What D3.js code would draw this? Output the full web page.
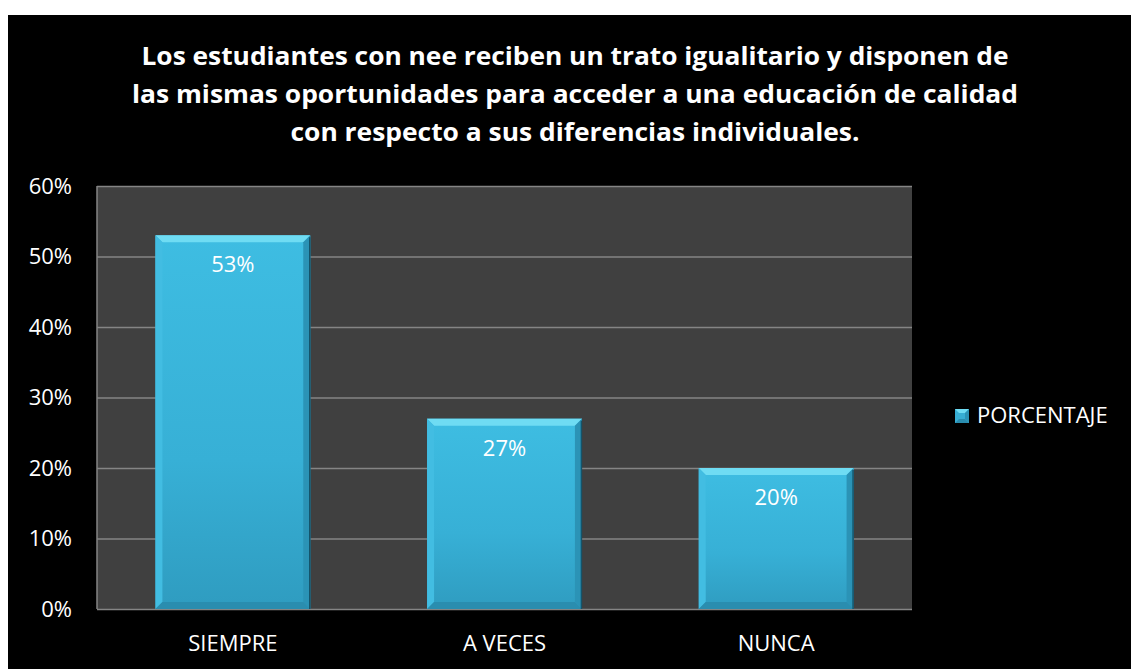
<!DOCTYPE html>
<html>
<head>
<meta charset="utf-8">
<script src="https://cdn.jsdelivr.net/npm/d3@7"></script>
<style>
  html, body { margin: 0; padding: 0; background: #ffffff; }
  svg { display: block; }
</style>
</head>
<body>
<div id="chart"></div>
<script>
const categories = ["SIEMPRE", "A VECES", "NUNCA"];
const values = [0.53, 0.27, 0.20];
const yTicks = [0, 0.1, 0.2, 0.3, 0.4, 0.5, 0.6];
const seriesName = "PORCENTAJE";
const titleLines = [
  "Los estudiantes con nee reciben un trato igualitario y disponen de",
  "las mismas oportunidades para acceder a una educación de calidad",
  "con respecto a sus diferencias individuales."
];
const titleWidths = [867, 886, 569];

const width = 1131;
const height = 669;
const plot = { left: 97, top: 186, right: 912, bottom: 609 };
const font = "'Open Sans', 'Noto Sans', sans-serif";
const labelSize = 22;

const svg = d3.select("#chart")
  .append("svg")
  .attr("width", width)
  .attr("height", height);

svg.append("rect")
  .attr("x", 8).attr("y", 15)
  .attr("width", width - 8).attr("height", height - 15)
  .attr("fill", "#000000");

const defs = svg.append("defs");
const grad = defs.append("linearGradient")
  .attr("id", "barFill")
  .attr("x1", 0).attr("y1", 0).attr("x2", 0).attr("y2", 1);
grad.append("stop").attr("offset", "0%").attr("stop-color", "#3ebde2");
grad.append("stop").attr("offset", "60%").attr("stop-color", "#37b0d6");
grad.append("stop").attr("offset", "100%").attr("stop-color", "#2f9cc0");

// title, three centred lines
svg.append("g")
  .selectAll("text")
  .data(titleLines)
  .enter()
  .append("text")
  .attr("x", 575)
  .attr("y", (d, i) => [65, 103, 141][i])
  .attr("text-anchor", "middle")
  .attr("fill", "#ffffff")
  .attr("font-family", font)
  .attr("font-weight", 700)
  .attr("font-size", 25)
  .attr("textLength", (d, i) => titleWidths[i])
  .attr("lengthAdjust", "spacingAndGlyphs")
  .text((d) => d);

const x = d3.scaleBand()
  .domain(categories)
  .range([plot.left, plot.right])
  .paddingInner(0.43)
  .paddingOuter(0.215);

const y = d3.scaleLinear()
  .domain([0, 0.6])
  .range([plot.bottom, plot.top]);

svg.append("rect")
  .attr("x", plot.left).attr("y", plot.top)
  .attr("width", plot.right - plot.left)
  .attr("height", plot.bottom - plot.top)
  .attr("fill", "#404040");

// gridlines
svg.append("g")
  .attr("transform", `translate(${plot.left},0)`)
  .call(d3.axisLeft(y).tickValues(yTicks).tickSize(-(plot.right - plot.left)).tickFormat(""))
  .call((g) => g.select(".domain").remove())
  .call((g) => g.selectAll("line").attr("stroke", "#858585").attr("stroke-width", 1.5));

svg.append("line")
  .attr("x1", plot.left).attr("x2", plot.left)
  .attr("y1", plot.top).attr("y2", plot.bottom)
  .attr("stroke", "#858585").attr("stroke-width", 1.5);

// y axis labels
svg.append("g")
  .attr("transform", `translate(${plot.left},0)`)
  .call(d3.axisLeft(y).tickValues(yTicks).tickSize(0).tickPadding(25).tickFormat(d3.format(".0%")))
  .call((g) => g.select(".domain").remove())
  .call((g) => g.selectAll("text")
    .attr("fill", "#ffffff")
    .attr("font-family", font)
    .attr("font-size", labelSize));

// x axis labels
svg.append("g")
  .attr("transform", `translate(0,${plot.bottom})`)
  .call(d3.axisBottom(x).tickSize(0).tickPadding(26))
  .call((g) => g.select(".domain").remove())
  .call((g) => g.selectAll("text")
    .attr("fill", "#ffffff")
    .attr("font-family", font)
    .attr("font-size", labelSize));

// bars with a bevelled edge
const bevel = 7;
const bars = svg.append("g")
  .selectAll("g")
  .data(categories.map((c, i) => ({ c, v: values[i] })))
  .enter()
  .append("g");

bars.each(function (d) {
  const g = d3.select(this);
  const x0 = x(d.c);
  const x1 = x0 + x.bandwidth();
  const y0 = y(d.v);
  const y1 = y(0);
  g.append("rect")
    .attr("x", x0).attr("y", y0)
    .attr("width", x1 - x0).attr("height", y1 - y0)
    .attr("fill", "url(#barFill)");
  g.append("polygon")
    .attr("points", [[x0, y0], [x1, y0], [x1 - bevel, y0 + bevel], [x0 + bevel, y0 + bevel]].join(" "))
    .attr("fill", "#6fdcf3");
  g.append("polygon")
    .attr("points", [[x0, y0], [x0 + bevel, y0 + bevel], [x0 + bevel, y1 - bevel], [x0, y1]].join(" "))
    .attr("fill", "#42bde2");
  g.append("polygon")
    .attr("points", [[x1, y0], [x1, y1], [x1 - bevel, y1 - bevel], [x1 - bevel, y0 + bevel]].join(" "))
    .attr("fill", "#2b93b6");
  g.append("polygon")
    .attr("points", [[x0, y1], [x1, y1], [x1 - bevel, y1 - bevel], [x0 + bevel, y1 - bevel]].join(" "))
    .attr("fill", "#2a8daf");
  g.append("line")
    .attr("x1", x1 - 0.5).attr("x2", x1 - 0.5)
    .attr("y1", y0 + 2).attr("y2", y1)
    .attr("stroke", "#15546a").attr("stroke-width", 1.5);
  g.append("text")
    .attr("x", (x0 + x1) / 2)
    .attr("y", y0 + 37)
    .attr("text-anchor", "middle")
    .attr("fill", "#ffffff")
    .attr("font-family", font)
    .attr("font-size", labelSize)
    .text(d3.format(".0%")(d.v));
});

// legend
const legend = svg.append("g").attr("transform", "translate(955,409)");
legend.append("rect")
  .attr("width", 14).attr("height", 14)
  .attr("fill", "#37aed4");
legend.append("polygon")
  .attr("points", "0,0 14,0 10,4 4,4")
  .attr("fill", "#6fdcf3");
legend.append("polygon")
  .attr("points", "14,0 14,14 10,10 10,4")
  .attr("fill", "#2b93b6");
legend.append("polygon")
  .attr("points", "0,14 14,14 10,10 4,10")
  .attr("fill", "#2a8daf");
legend.append("text")
  .attr("x", 22).attr("y", 14)
  .attr("fill", "#ffffff")
  .attr("font-family", font)
  .attr("font-size", labelSize)
  .text(seriesName);
</script>
</body>
</html>
